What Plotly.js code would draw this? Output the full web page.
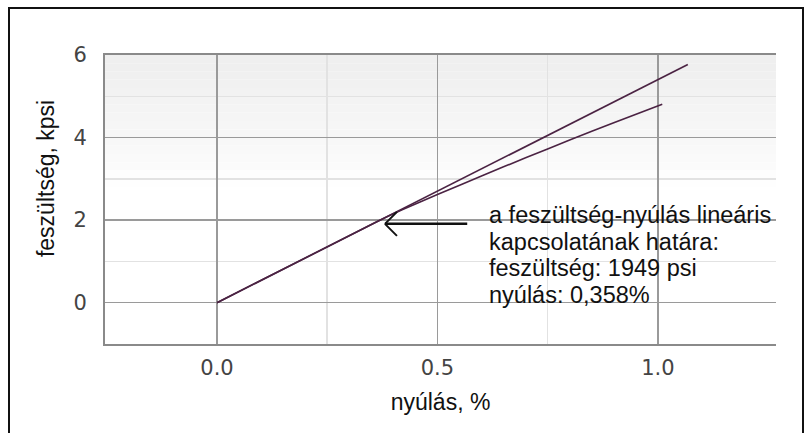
<!DOCTYPE html>
<html>
<head>
<meta charset="utf-8">
<script src="https://cdn.plot.ly/plotly-3.0.1.min.js"></script>
<style>
  html, body { margin: 0; padding: 0; background: #fff; }
  #wrap { position: relative; width: 811px; height: 433px; overflow: hidden; }
  #chart { width: 811px; height: 433px; }
  #frame { position: absolute; left: 8px; top: 7px; width: 796px; height: 450px;
           border: 2px solid #111; pointer-events: none; box-sizing: border-box; }
</style>
</head>
<body>
<div id="wrap"><div id="chart"></div><div id="frame"></div></div>
<script>
// ---- data ----
const straightStrain = [0, 1.068];            // nyúlás, %
const straightStress = [0, 5.77];             // feszültség, kpsi
const curveStrain = [0, 0.36, 0.42, 0.5, 0.6, 0.7, 0.8, 0.9, 1.01];
const curveStress = [0, 1.95, 2.25, 2.62, 3.07, 3.51, 3.94, 4.36, 4.81];
const xTickVals = [0, 0.5, 1.0];
const xTickText = ["0.0", "0.5", "1.0"];
const yTickVals = [0, 2, 4, 6];
const yTickText = ["0", "2", "4", "6"];
const limitStressPsi = 1949;
const limitStrainText = "0,358";
const arrowTip = [0.381, 1.91];
const arrowTail = [0.571, 1.91];
const noteLines = [
  "a feszültség-nyúlás lineáris",
  "kapcsolatának határa:",
  "feszültség: " + limitStressPsi + " psi",
  "nyúlás: " + limitStrainText + "%"
];
const xTitle = "nyúlás, %";
const yTitle = "feszültség, kpsi";

const lineColor = "#4b2343";
const textFont = "Liberation Sans, Arial, sans-serif";
const tickFont = "DejaVu Sans, sans-serif";

const traces = [
  { x: straightStrain, y: straightStress, type: "scatter", mode: "lines",
    line: { color: lineColor, width: 1.6 }, hoverinfo: "skip", showlegend: false },
  { x: curveStrain, y: curveStress, type: "scatter", mode: "lines",
    line: { color: lineColor, width: 1.6, shape: "spline", smoothing: 0.6 },
    hoverinfo: "skip", showlegend: false }
];

// soft grey fade at the top of the plot area (decorative background)
const bands = [];
const fadeSteps = 16, fadeTop = 6, fadeBottom = 2.8;
for (let i = 0; i < fadeSteps; i++) {
  const y1 = fadeTop - (fadeTop - fadeBottom) * i / fadeSteps;
  const y0 = fadeTop - (fadeTop - fadeBottom) * (i + 1) / fadeSteps;
  const t = i / (fadeSteps - 1);
  const g = Math.round(239 + (254 - 239) * Math.pow(t, 1.3));
  bands.push({ type: "rect", xref: "paper", yref: "y", x0: 0, x1: 1, y0: y0, y1: y1,
    fillcolor: "rgb(" + g + "," + g + "," + g + ")", line: { width: 0 }, layer: "below" });
}

const shapes = bands.concat([
  // white box behind the note
  { type: "rect", xref: "paper", yref: "y", x0: 0.544, x1: 1.0, y0: -0.54, y1: 2.80,
    fillcolor: "#ffffff", line: { width: 0 }, layer: "between" },
  // open chevron arrow head
  { type: "line", xref: "x", yref: "y", xsizemode: "pixel", ysizemode: "pixel",
    xanchor: arrowTip[0], yanchor: arrowTip[1], x0: 0, y0: 0, x1: 12, y1: 12,
    line: { color: "#111", width: 2 } },
  { type: "line", xref: "x", yref: "y", xsizemode: "pixel", ysizemode: "pixel",
    xanchor: arrowTip[0], yanchor: arrowTip[1], x0: 0, y0: 0, x1: 12, y1: -12,
    line: { color: "#111", width: 2 } }
]);

// note: one annotation per line so the line spacing matches
const noteY = [2.124, 1.482, 0.840, 0.199];
const noteAnnotations = noteLines.map((t, i) => ({
  xref: "x", yref: "y", x: 0.612, y: noteY[i], xanchor: "left", yanchor: "middle",
  align: "left", showarrow: false, text: t,
  font: { family: textFont, size: 23.5, color: "#111" }
}));

const layout = {
  width: 811, height: 433,
  margin: { l: 105, r: 35, t: 55, b: 89 },
  paper_bgcolor: "#ffffff", plot_bgcolor: "rgba(0,0,0,0)",
  showlegend: false,
  font: { family: textFont, color: "#111" },
  xaxis: {
    range: [-0.254, 1.268], tickvals: xTickVals, ticktext: xTickText,
    showgrid: true, gridcolor: "#9a9a9a", gridwidth: 1.5, zeroline: false,
    showline: true, linecolor: "#8a8a8a", linewidth: 2, mirror: true,
    ticks: "", ticklabelstandoff: 4, tickfont: { family: tickFont, size: 21, color: "#444" },
    minor: { tickvals: [0.25, 0.75], showgrid: true, gridcolor: "#e2e2e2", gridwidth: 1.5, ticks: "" },
    title: { text: xTitle, font: { family: textFont, size: 23, color: "#111" }, standoff: 15 },
    fixedrange: true
  },
  yaxis: {
    range: [-1, 6], tickvals: yTickVals, ticktext: yTickText,
    showgrid: true, gridcolor: "#9a9a9a", gridwidth: 1.5, zeroline: false,
    showline: true, linecolor: "#8a8a8a", linewidth: 2, mirror: false,
    ticks: "", tickfont: { family: tickFont, size: 21, color: "#444" },
    ticklabelstandoff: 12,
    minor: { tickvals: [1, 3, 5], showgrid: true, gridcolor: "#e2e2e2", gridwidth: 1.5, ticks: "" },
    fixedrange: true
  },
  shapes: shapes,
  annotations: [
    { xref: "x", yref: "y", axref: "x", ayref: "y",
      x: arrowTip[0], y: arrowTip[1], ax: arrowTail[0], ay: arrowTail[1],
      text: "", showarrow: true, arrowhead: 0, arrowwidth: 2.5, arrowcolor: "#111" },
    // y-axis title (placed as in the reference, above the plot centre)
    { xref: "paper", yref: "paper", x: -0.088, y: 0.574, xanchor: "center", yanchor: "middle",
      textangle: -90, showarrow: false, text: yTitle,
      font: { family: textFont, size: 23, color: "#111" } }
  ].concat(noteAnnotations)
};

Plotly.newPlot("chart", traces, layout, { staticPlot: true, displayModeBar: false });
</script>
</body>
</html>
